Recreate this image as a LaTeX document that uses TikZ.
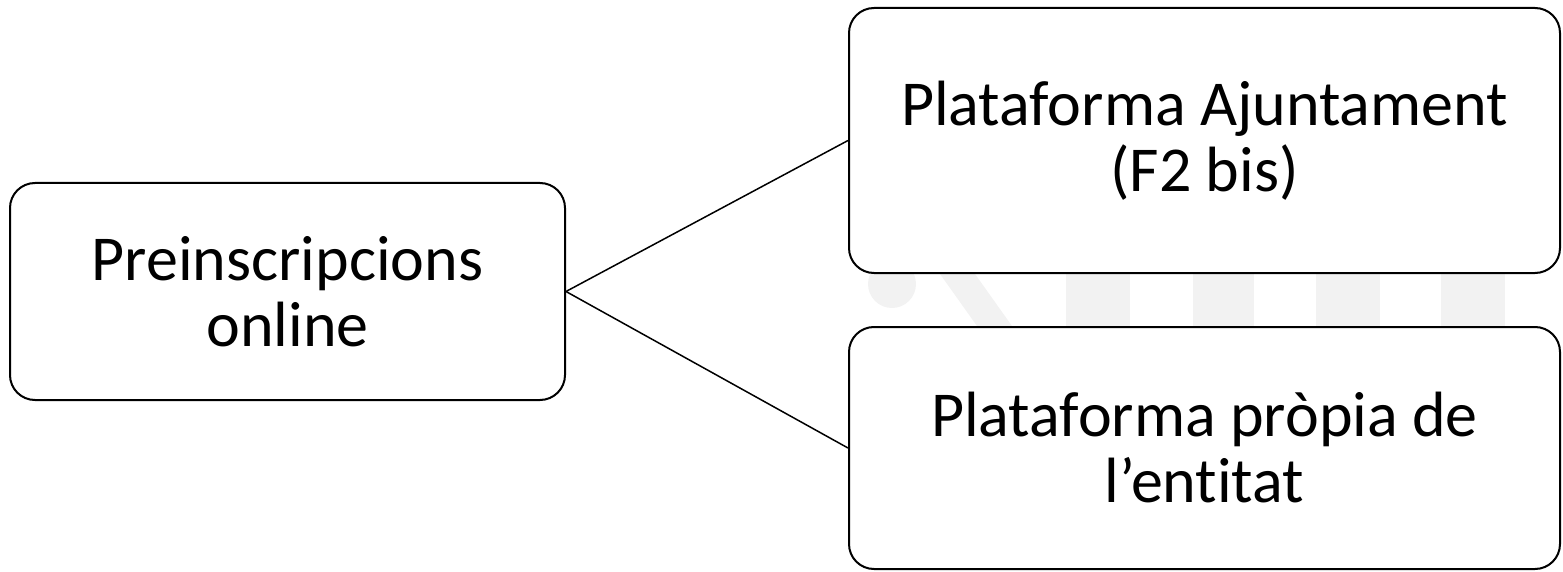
\documentclass[tikz,border=0pt]{standalone}
\usepackage{fontspec}
\setmainfont{Carlito}[Ligatures={NoCommon}]
\begin{document}
\begin{tikzpicture}[x=1pt,y=-1pt,
  box/.style={draw=black, fill=white, line width=2pt, rounded corners=25pt, inner sep=0pt,
    align=center, font=\fontsize{64}{66}\selectfont},
  link/.style={draw=black, line width=1.5pt},
  wmark/.style={fill=black!5, draw=none}]
\useasboundingbox (0,0) rectangle (1563,572);
% faint background watermark, visible only between the right boxes
\fill[wmark] (892,284) circle (24pt);
\fill[wmark] (940,274) -- (975,274) -- (1012,326) -- (977,326) -- cycle;
\fill[wmark] (1066,274) rectangle (1130,326);
\fill[wmark] (1193,274) rectangle (1254,326);
\fill[wmark] (1316,274) rectangle (1380,326);
\fill[wmark] (1441,274) rectangle (1505,326);
\node[box, minimum width=555pt, minimum height=217pt] (pre) at (287.5,291.5) {Preinscripcions\\online};
\node[box, minimum width=711pt, minimum height=265pt] (aj) at (1204.5,140.5) {Plataforma Ajuntament\\(F2 bis)};
\node[box, minimum width=711pt, minimum height=242pt] (prop) at (1204.5,448) {Plataforma pròpia de\\l’entitat};
\draw[link] (pre.east) -- (aj.west);
\draw[link] (pre.east) -- (prop.west);
\end{tikzpicture}
\end{document}
